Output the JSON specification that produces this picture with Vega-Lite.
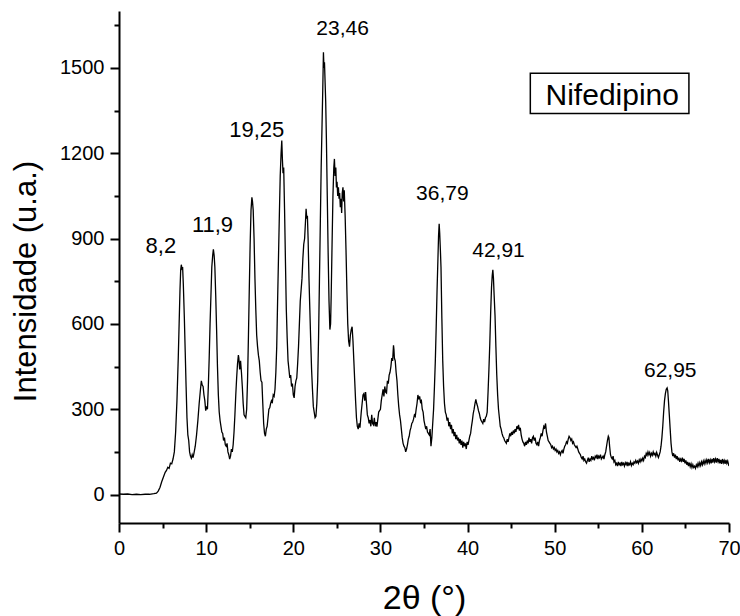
{
"$schema":"https://vega.github.io/schema/vega-lite/v6.json",
"width":610,"height":512,
"autosize":{"type":"none"},
"padding":{"left":119,"top":11,"right":11,"bottom":93},
"background":"white",
"config":{"view":{"stroke":null},"font":"Liberation Sans"},
"datasets":{
"xrd":[
{"x":0,"y":2},{"x":0.5,"y":1},{"x":1,"y":2},{"x":1.5,"y":0},{"x":2,"y":1},{"x":2.5,"y":0},{"x":3,"y":1},{"x":3.5,"y":1},{"x":4,"y":3},{"x":4.3,"y":5},
{"x":4.5,"y":12},{"x":4.7,"y":25},{"x":4.9,"y":45},{"x":5.1,"y":62},{"x":5.3,"y":78},{"x":5.45,"y":85},{"x":5.6,"y":96},{"x":5.75,"y":92},{"x":5.9,"y":110},{"x":6.05,"y":108},{"x":6.2,"y":125},{"x":6.35,"y":150},{"x":6.5,"y":220},{"x":6.65,"y":330},{"x":6.8,"y":480},{"x":6.9,"y":600},{"x":7.0,"y":720},{"x":7.08,"y":790},{"x":7.15,"y":808},{"x":7.22,"y":795},{"x":7.3,"y":800},{"x":7.38,"y":740},{"x":7.5,"y":620},{"x":7.6,"y":500},{"x":7.7,"y":380},{"x":7.8,"y":270},{"x":7.9,"y":210},{"x":8.0,"y":190},{"x":8.1,"y":150},{"x":8.2,"y":135},{"x":8.3,"y":128},{"x":8.4,"y":140},{"x":8.5,"y":130},{"x":8.6,"y":145},{"x":8.75,"y":170},{"x":8.9,"y":210},{"x":9.05,"y":260},{"x":9.2,"y":320},{"x":9.35,"y":370},{"x":9.45,"y":400},{"x":9.55,"y":385},{"x":9.65,"y":380},{"x":9.75,"y":350},{"x":9.85,"y":330},{"x":9.95,"y":295},{"x":10.05,"y":310},{"x":10.15,"y":300},{"x":10.25,"y":380},{"x":10.35,"y":480},{"x":10.45,"y":600},{"x":10.55,"y":700},{"x":10.65,"y":800},{"x":10.75,"y":840},{"x":10.83,"y":862},{"x":10.92,"y":840},{"x":11.0,"y":800},{"x":11.1,"y":700},{"x":11.2,"y":580},{"x":11.3,"y":450},{"x":11.4,"y":350},{"x":11.5,"y":290},{"x":11.6,"y":260},{"x":11.7,"y":240},{"x":11.8,"y":220},{"x":11.9,"y":215},{"x":12.0,"y":190},{"x":12.1,"y":200},{"x":12.2,"y":175},{"x":12.3,"y":170},{"x":12.4,"y":180},{"x":12.5,"y":150},{"x":12.6,"y":140},{"x":12.7,"y":125},{"x":12.8,"y":135},{"x":12.9,"y":160},{"x":13.0,"y":150},{"x":13.1,"y":175},{"x":13.2,"y":220},{"x":13.3,"y":280},{"x":13.4,"y":350},{"x":13.5,"y":410},{"x":13.6,"y":460},{"x":13.7,"y":490},{"x":13.75,"y":480},{"x":13.85,"y":440},{"x":13.95,"y":470},{"x":14.05,"y":430},{"x":14.15,"y":380},{"x":14.25,"y":320},{"x":14.35,"y":280},{"x":14.45,"y":275},{"x":14.55,"y":270},{"x":14.65,"y":300},{"x":14.75,"y":400},{"x":14.85,"y":550},{"x":14.95,"y":720},{"x":15.05,"y":880},{"x":15.15,"y":1000},{"x":15.25,"y":1045},{"x":15.32,"y":1030},{"x":15.4,"y":1000},{"x":15.5,"y":900},{"x":15.6,"y":760},{"x":15.7,"y":650},{"x":15.8,"y":560},{"x":15.9,"y":520},{"x":16.0,"y":490},{"x":16.1,"y":470},{"x":16.2,"y":430},{"x":16.3,"y":400},{"x":16.4,"y":395},{"x":16.5,"y":320},{"x":16.6,"y":250},{"x":16.7,"y":215},{"x":16.8,"y":205},{"x":16.9,"y":230},{"x":17.0,"y":240},{"x":17.1,"y":270},{"x":17.2,"y":300},{"x":17.3,"y":305},{"x":17.4,"y":320},{"x":17.5,"y":330},{"x":17.6,"y":325},{"x":17.7,"y":350},{"x":17.8,"y":345},{"x":17.9,"y":370},{"x":18.0,"y":430},{"x":18.1,"y":520},{"x":18.2,"y":680},{"x":18.3,"y":830},{"x":18.4,"y":980},{"x":18.5,"y":1120},{"x":18.6,"y":1200},{"x":18.68,"y":1245},{"x":18.75,"y":1180},{"x":18.82,"y":1130},{"x":18.9,"y":1150},{"x":19.0,"y":1000},{"x":19.1,"y":820},{"x":19.2,"y":650},{"x":19.3,"y":550},{"x":19.4,"y":470},{"x":19.5,"y":440},{"x":19.6,"y":410},{"x":19.7,"y":420},{"x":19.8,"y":380},{"x":19.9,"y":390},{"x":20.0,"y":350},{"x":20.1,"y":340},{"x":20.2,"y":380},{"x":20.3,"y":400},{"x":20.4,"y":410},{"x":20.5,"y":460},{"x":20.6,"y":520},{"x":20.7,"y":600},{"x":20.8,"y":680},{"x":20.9,"y":720},{"x":21.0,"y":760},{"x":21.1,"y":830},{"x":21.2,"y":880},{"x":21.3,"y":900},{"x":21.4,"y":960},{"x":21.47,"y":1005},{"x":21.55,"y":970},{"x":21.62,"y":980},{"x":21.7,"y":900},{"x":21.8,"y":760},{"x":21.9,"y":650},{"x":22.0,"y":540},{"x":22.1,"y":440},{"x":22.2,"y":370},{"x":22.3,"y":310},{"x":22.4,"y":290},{"x":22.5,"y":270},{"x":22.6,"y":275},{"x":22.7,"y":320},{"x":22.8,"y":400},{"x":22.9,"y":550},{"x":23.0,"y":750},{"x":23.1,"y":950},{"x":23.2,"y":1150},{"x":23.3,"y":1300},{"x":23.38,"y":1420},{"x":23.46,"y":1555},{"x":23.52,"y":1500},{"x":23.58,"y":1520},{"x":23.65,"y":1450},{"x":23.72,"y":1380},{"x":23.8,"y":1250},{"x":23.9,"y":1050},{"x":24.0,"y":850},{"x":24.1,"y":680},{"x":24.2,"y":580},{"x":24.28,"y":600},{"x":24.35,"y":700},{"x":24.45,"y":880},{"x":24.55,"y":1050},{"x":24.65,"y":1150},{"x":24.72,"y":1180},{"x":24.8,"y":1120},{"x":24.88,"y":1150},{"x":24.95,"y":1080},{"x":25.02,"y":1100},{"x":25.1,"y":1050},{"x":25.18,"y":1080},{"x":25.25,"y":1040},{"x":25.32,"y":1060},{"x":25.4,"y":1010},{"x":25.48,"y":1040},{"x":25.55,"y":990},{"x":25.62,"y":1060},{"x":25.7,"y":1080},{"x":25.78,"y":1030},{"x":25.85,"y":1070},{"x":25.95,"y":980},{"x":26.05,"y":860},{"x":26.15,"y":720},{"x":26.25,"y":600},{"x":26.35,"y":540},{"x":26.45,"y":520},{"x":26.55,"y":560},{"x":26.65,"y":580},{"x":26.75,"y":590},{"x":26.85,"y":540},{"x":26.95,"y":470},{"x":27.05,"y":400},{"x":27.15,"y":330},{"x":27.25,"y":270},{"x":27.35,"y":240},{"x":27.45,"y":230},{"x":27.55,"y":250},{"x":27.65,"y":235},{"x":27.8,"y":290},{"x":27.9,"y":320},{"x":28.0,"y":350},{"x":28.1,"y":355},{"x":28.2,"y":330},{"x":28.3,"y":360},{"x":28.4,"y":320},{"x":28.5,"y":280},{"x":28.6,"y":270},{"x":28.7,"y":250},{"x":28.8,"y":262},{"x":28.9,"y":240},{"x":29.0,"y":280},{"x":29.1,"y":250},{"x":29.2,"y":245},{"x":29.3,"y":270},{"x":29.4,"y":240},{"x":29.5,"y":255},{"x":29.6,"y":239},{"x":29.8,"y":290},{"x":30.0,"y":300},{"x":30.1,"y":330},{"x":30.2,"y":350},{"x":30.3,"y":370},{"x":30.4,"y":345},{"x":30.5,"y":380},{"x":30.6,"y":360},{"x":30.7,"y":357},{"x":30.8,"y":400},{"x":30.9,"y":390},{"x":31.0,"y":420},{"x":31.1,"y":430},{"x":31.2,"y":450},{"x":31.3,"y":480},{"x":31.4,"y":470},{"x":31.5,"y":525},{"x":31.55,"y":510},{"x":31.6,"y":480},{"x":31.7,"y":470},{"x":31.8,"y":430},{"x":31.9,"y":400},{"x":32.0,"y":350},{"x":32.1,"y":310},{"x":32.2,"y":280},{"x":32.3,"y":260},{"x":32.4,"y":230},{"x":32.5,"y":200},{"x":32.6,"y":180},{"x":32.7,"y":170},{"x":32.8,"y":165},{"x":32.9,"y":150},{"x":33.0,"y":160},{"x":33.1,"y":175},{"x":33.2,"y":195},{"x":33.3,"y":205},{"x":33.4,"y":225},{"x":33.5,"y":235},{"x":33.6,"y":250},{"x":33.7,"y":255},{"x":33.8,"y":265},{"x":33.9,"y":280},{"x":34.0,"y":275},{"x":34.1,"y":300},{"x":34.2,"y":320},{"x":34.3,"y":350},{"x":34.4,"y":335},{"x":34.5,"y":345},{"x":34.6,"y":325},{"x":34.7,"y":330},{"x":34.8,"y":300},{"x":34.9,"y":290},{"x":35.0,"y":260},{"x":35.1,"y":245},{"x":35.2,"y":230},{"x":35.3,"y":240},{"x":35.4,"y":220},{"x":35.5,"y":215},{"x":35.6,"y":210},{"x":35.7,"y":230},{"x":35.8,"y":170},{"x":35.9,"y":200},{"x":36.0,"y":250},{"x":36.1,"y":300},{"x":36.2,"y":380},{"x":36.3,"y":470},{"x":36.4,"y":590},{"x":36.5,"y":720},{"x":36.6,"y":830},{"x":36.67,"y":910},{"x":36.74,"y":952},{"x":36.8,"y":920},{"x":36.88,"y":860},{"x":36.95,"y":800},{"x":37.05,"y":620},{"x":37.15,"y":470},{"x":37.25,"y":380},{"x":37.35,"y":320},{"x":37.45,"y":290},{"x":37.55,"y":280},{"x":37.65,"y":260},{"x":37.75,"y":270},{"x":37.85,"y":240},{"x":37.95,"y":255},{"x":38.05,"y":230},{"x":38.15,"y":245},{"x":38.25,"y":215},{"x":38.35,"y":230},{"x":38.45,"y":205},{"x":38.55,"y":220},{"x":38.65,"y":195},{"x":38.75,"y":210},{"x":38.85,"y":190},{"x":38.95,"y":200},{"x":39.05,"y":180},{"x":39.15,"y":195},{"x":39.25,"y":175},{"x":39.35,"y":190},{"x":39.45,"y":165},{"x":39.55,"y":185},{"x":39.65,"y":170},{"x":39.75,"y":180},{"x":39.85,"y":160},{"x":39.95,"y":185},{"x":40.05,"y":175},{"x":40.15,"y":190},{"x":40.25,"y":205},{"x":40.35,"y":215},{"x":40.45,"y":240},{"x":40.55,"y":260},{"x":40.65,"y":285},{"x":40.75,"y":300},{"x":40.85,"y":320},{"x":40.95,"y":335},{"x":41.05,"y":320},{"x":41.15,"y":310},{"x":41.25,"y":295},{"x":41.35,"y":285},{"x":41.45,"y":270},{"x":41.55,"y":260},{"x":41.65,"y":255},{"x":41.75,"y":250},{"x":41.85,"y":265},{"x":41.95,"y":255},{"x":42.05,"y":270},{"x":42.15,"y":275},{"x":42.25,"y":290},{"x":42.35,"y":360},{"x":42.45,"y":440},{"x":42.55,"y":530},{"x":42.65,"y":640},{"x":42.75,"y":730},{"x":42.83,"y":770},{"x":42.9,"y":790},{"x":42.97,"y":760},{"x":43.05,"y":700},{"x":43.15,"y":630},{"x":43.25,"y":520},{"x":43.35,"y":420},{"x":43.45,"y":350},{"x":43.55,"y":300},{"x":43.65,"y":270},{"x":43.75,"y":240},{"x":43.85,"y":230},{"x":43.95,"y":215},{"x":44.05,"y":205},{"x":44.15,"y":200},{"x":44.25,"y":190},{"x":44.35,"y":185},{"x":44.45,"y":180},{"x":44.55,"y":195},{"x":44.65,"y":185},{"x":44.75,"y":200},{"x":44.85,"y":215},{"x":44.95,"y":205},{"x":45.05,"y":220},{"x":45.15,"y":210},{"x":45.25,"y":225},{"x":45.35,"y":215},{"x":45.45,"y":230},{"x":45.55,"y":220},{"x":45.65,"y":240},{"x":45.75,"y":230},{"x":45.85,"y":245},{"x":45.95,"y":225},{"x":46.05,"y":235},{"x":46.15,"y":210},{"x":46.25,"y":195},{"x":46.35,"y":185},{"x":46.45,"y":180},{"x":46.55,"y":170},{"x":46.65,"y":185},{"x":46.75,"y":175},{"x":46.85,"y":190},{"x":46.95,"y":180},{"x":47.05,"y":200},{"x":47.15,"y":185},{"x":47.25,"y":195},{"x":47.35,"y":180},{"x":47.45,"y":200},{"x":47.55,"y":205},{"x":47.65,"y":190},{"x":47.75,"y":200},{"x":47.85,"y":180},{"x":47.95,"y":175},{"x":48.05,"y":185},{"x":48.15,"y":170},{"x":48.25,"y":190},{"x":48.35,"y":200},{"x":48.45,"y":215},{"x":48.55,"y":205},{"x":48.65,"y":225},{"x":48.75,"y":240},{"x":48.85,"y":235},{"x":48.95,"y":250},{"x":49.05,"y":220},{"x":49.15,"y":205},{"x":49.25,"y":190},{"x":49.35,"y":185},{"x":49.45,"y":180},{"x":49.55,"y":175},{"x":49.65,"y":165},{"x":49.75,"y":170},{"x":49.85,"y":160},{"x":49.95,"y":165},{"x":50.05,"y":155},{"x":50.15,"y":160},{"x":50.25,"y":150},{"x":50.35,"y":155},{"x":50.45,"y":145},{"x":50.55,"y":150},{"x":50.65,"y":140},{"x":50.75,"y":150},{"x":50.85,"y":155},{"x":50.95,"y":145},{"x":51.05,"y":160},{"x":51.15,"y":170},{"x":51.25,"y":175},{"x":51.35,"y":185},{"x":51.45,"y":180},{"x":51.55,"y":195},{"x":51.65,"y":205},{"x":51.75,"y":200},{"x":51.85,"y":190},{"x":51.95,"y":195},{"x":52.05,"y":180},{"x":52.15,"y":185},{"x":52.25,"y":175},{"x":52.35,"y":170},{"x":52.45,"y":165},{"x":52.55,"y":170},{"x":52.65,"y":160},{"x":52.75,"y":150},{"x":52.85,"y":145},{"x":52.95,"y":140},{"x":53.05,"y":130},{"x":53.15,"y":125},{"x":53.25,"y":135},{"x":53.35,"y":120},{"x":53.45,"y":125},{"x":53.55,"y":115},{"x":53.65,"y":110},{"x":53.75,"y":120},{"x":53.85,"y":130},{"x":53.95,"y":115},{"x":54.05,"y":125},{"x":54.15,"y":120},{"x":54.25,"y":135},{"x":54.35,"y":125},{"x":54.45,"y":130},{"x":54.55,"y":120},{"x":54.65,"y":135},{"x":54.75,"y":130},{"x":54.85,"y":140},{"x":54.95,"y":125},{"x":55.05,"y":135},{"x":55.15,"y":130},{"x":55.25,"y":140},{"x":55.35,"y":125},{"x":55.45,"y":130},{"x":55.55,"y":135},{"x":55.65,"y":125},{"x":55.75,"y":140},{"x":55.85,"y":150},{"x":55.95,"y":170},{"x":56.05,"y":190},{"x":56.15,"y":205},{"x":56.22,"y":200},{"x":56.3,"y":170},{"x":56.4,"y":140},{"x":56.5,"y":130},{"x":56.6,"y":125},{"x":56.7,"y":135},{"x":56.8,"y":115},{"x":56.9,"y":120},{"x":57.0,"y":105},{"x":57.1,"y":110},{"x":57.2,"y":100},{"x":57.3,"y":115},{"x":57.4,"y":105},{"x":57.5,"y":110},{"x":57.6,"y":100},{"x":57.7,"y":115},{"x":57.8,"y":105},{"x":57.9,"y":110},{"x":58.0,"y":100},{"x":58.1,"y":112},{"x":58.2,"y":105},{"x":58.3,"y":115},{"x":58.4,"y":100},{"x":58.5,"y":110},{"x":58.6,"y":105},{"x":58.7,"y":115},{"x":58.8,"y":102},{"x":58.9,"y":110},{"x":59.0,"y":105},{"x":59.1,"y":115},{"x":59.2,"y":110},{"x":59.3,"y":120},{"x":59.4,"y":112},{"x":59.5,"y":118},{"x":59.6,"y":110},{"x":59.7,"y":122},{"x":59.8,"y":115},{"x":59.9,"y":125},{"x":60.0,"y":118},{"x":60.1,"y":128},{"x":60.2,"y":120},{"x":60.3,"y":135},{"x":60.4,"y":130},{"x":60.5,"y":145},{"x":60.6,"y":138},{"x":60.7,"y":150},{"x":60.8,"y":140},{"x":60.9,"y":148},{"x":61.0,"y":135},{"x":61.1,"y":145},{"x":61.2,"y":138},{"x":61.3,"y":150},{"x":61.4,"y":140},{"x":61.5,"y":145},{"x":61.6,"y":135},{"x":61.7,"y":148},{"x":61.8,"y":138},{"x":61.9,"y":130},{"x":62.0,"y":140},{"x":62.1,"y":150},{"x":62.2,"y":170},{"x":62.3,"y":200},{"x":62.4,"y":240},{"x":62.5,"y":290},{"x":62.6,"y":330},{"x":62.7,"y":355},{"x":62.8,"y":370},{"x":62.9,"y":375},{"x":62.97,"y":365},{"x":63.05,"y":330},{"x":63.15,"y":280},{"x":63.25,"y":230},{"x":63.35,"y":180},{"x":63.45,"y":150},{"x":63.55,"y":135},{"x":63.65,"y":145},{"x":63.75,"y":130},{"x":63.85,"y":140},{"x":63.95,"y":125},{"x":64.05,"y":135},{"x":64.15,"y":120},{"x":64.25,"y":130},{"x":64.35,"y":115},{"x":64.45,"y":125},{"x":64.55,"y":118},{"x":64.65,"y":130},{"x":64.75,"y":115},{"x":64.85,"y":125},{"x":64.95,"y":110},{"x":65.05,"y":120},{"x":65.15,"y":105},{"x":65.25,"y":115},{"x":65.35,"y":100},{"x":65.45,"y":112},{"x":65.55,"y":98},{"x":65.65,"y":108},{"x":65.75,"y":95},{"x":65.85,"y":105},{"x":65.95,"y":95},{"x":66.05,"y":100},{"x":66.15,"y":92},{"x":66.25,"y":105},{"x":66.35,"y":98},{"x":66.45,"y":110},{"x":66.55,"y":100},{"x":66.65,"y":112},{"x":66.75,"y":102},{"x":66.85,"y":115},{"x":66.95,"y":105},{"x":67.05,"y":118},{"x":67.15,"y":108},{"x":67.25,"y":120},{"x":67.35,"y":110},{"x":67.45,"y":122},{"x":67.55,"y":112},{"x":67.65,"y":125},{"x":67.75,"y":112},{"x":67.85,"y":122},{"x":67.95,"y":110},{"x":68.05,"y":125},{"x":68.15,"y":112},{"x":68.25,"y":128},{"x":68.35,"y":115},{"x":68.45,"y":125},{"x":68.55,"y":112},{"x":68.65,"y":128},{"x":68.75,"y":115},{"x":68.85,"y":125},{"x":68.95,"y":110},{"x":69.05,"y":122},{"x":69.15,"y":108},{"x":69.25,"y":125},{"x":69.35,"y":112},{"x":69.45,"y":120},{"x":69.55,"y":108},{"x":69.65,"y":122},{"x":69.75,"y":110},{"x":69.85,"y":118},{"x":69.95,"y":105},{"x":70.0,"y":100}
],
"peaksA":[{"x":4.8,"y":850,"label":"8,2"},{"x":10.73,"y":923,"label":"11,9"},{"x":15.8,"y":1256,"label":"19,25"}],
"peaksB":[{"x":25.66,"y":1615,"label":"23,46"},{"x":37.1,"y":1034,"label":"36,79"},{"x":43.55,"y":835,"label":"42,91"},{"x":63.26,"y":412,"label":"62,95"}],
"box":[{"x1":47.2,"x2":65.4,"y1":1340,"y2":1481,"lx":56.6,"ly":1368,"label":"Nifedipino"}]
},
"layer":[
{"data":{"name":"xrd"},
 "mark":{"type":"line","color":"black","strokeWidth":1.3,"clip":true},
 "encoding":{
  "x":{"field":"x","type":"quantitative","scale":{"domain":[0,70],"nice":false,"zero":false},
   "axis":{"title":"2θ (°)","values":[0,5,10,15,20,25,30,35,40,45,50,55,60,65,70],
    "labelExpr":"datum.value % 10 === 0 ? datum.label : ''",
    "tickSize":{"condition":{"test":"datum.value % 10 === 0","value":9},"value":5},
    "grid":false,"domainColor":"black","domainWidth":2,"tickColor":"black","tickWidth":2,
    "labelFontSize":20,"labelColor":"black","labelPadding":6,"labelFlush":false,"labelFont":"Liberation Sans",
    "titleFontSize":34,"titleFontWeight":"normal","titleColor":"black","titleFont":"Liberation Sans",
    "titleY":85,"titleBaseline":"alphabetic"}},
  "y":{"field":"y","type":"quantitative","scale":{"domain":[-100,1700],"nice":false,"zero":false},
   "axis":{"title":"Intensidade (u.a.)","values":[0,150,300,450,600,750,900,1050,1200,1350,1500,1650],
    "format":"d",
    "labelExpr":"datum.value % 300 === 0 ? datum.label : ''",
    "tickSize":{"condition":{"test":"datum.value % 300 === 0","value":9},"value":5},
    "grid":false,"domainColor":"black","domainWidth":2,"tickColor":"black","tickWidth":2,
    "labelFontSize":20,"labelColor":"black","labelPadding":6,"labelFont":"Liberation Sans",
    "titleFontSize":31,"titleFontWeight":"normal","titleColor":"black","titleFont":"Liberation Sans",
    "titleX":-84,"titleY":270,"titleBaseline":"alphabetic","titleAngle":-90}}
 }},
{"data":{"name":"peaksA"},
 "mark":{"type":"text","fontSize":22,"align":"center","baseline":"alphabetic","color":"black","font":"Liberation Sans"},
 "encoding":{"x":{"field":"x","type":"quantitative"},"y":{"field":"y","type":"quantitative"},"text":{"field":"label"}}},
{"data":{"name":"peaksB"},
 "mark":{"type":"text","fontSize":21,"align":"center","baseline":"alphabetic","color":"black","font":"Liberation Sans"},
 "encoding":{"x":{"field":"x","type":"quantitative"},"y":{"field":"y","type":"quantitative"},"text":{"field":"label"}}},
{"data":{"name":"box"},
 "mark":{"type":"rect","fill":"white","stroke":"black","strokeWidth":1.5},
 "encoding":{"x":{"field":"x1","type":"quantitative"},"x2":{"field":"x2"},"y":{"field":"y1","type":"quantitative"},"y2":{"field":"y2"}}},
{"data":{"name":"box"},
 "mark":{"type":"text","fontSize":30,"align":"center","baseline":"alphabetic","color":"black","font":"Liberation Sans"},
 "encoding":{"x":{"field":"lx","type":"quantitative"},"y":{"field":"ly","type":"quantitative"},"text":{"field":"label"}}}
]
}
